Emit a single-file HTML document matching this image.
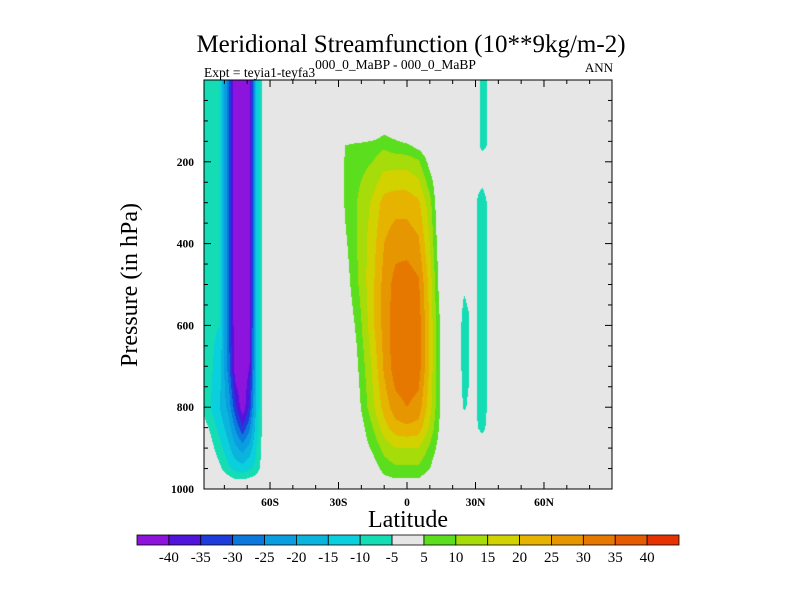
<!DOCTYPE html>
<html><head><meta charset="utf-8"><style>
body{margin:0;background:#fff;}
#wrap{position:relative;width:800px;height:600px;overflow:hidden;font-family:"Liberation Serif",serif;color:#000;}
canvas{position:absolute;left:0;top:0;}
svg{position:absolute;left:0;top:0;}
</style></head><body>
<div id="wrap">
<canvas id="field" width="800" height="600"></canvas>
<svg id="ov" width="800" height="600">
<text x="411" y="52" font-size="25" text-anchor="middle" font-family="Liberation Serif, serif">Meridional Streamfunction (10**9kg/m-2)</text>
<text x="204" y="77" font-size="13.5" font-family="Liberation Serif, serif">Expt = teyia1-teyfa3<tspan dy="-8">000_0_MaBP - 000_0_MaBP</tspan></text>
<text x="613" y="72" font-size="13" text-anchor="end" font-family="Liberation Serif, serif">ANN</text>
<text x="0" y="0" font-size="24" text-anchor="middle" transform="translate(137,285) rotate(-90)" font-family="Liberation Serif, serif">Pressure (in hPa)</text>
<text x="408" y="527" font-size="24" text-anchor="middle" font-family="Liberation Serif, serif">Latitude</text>
</svg>
</div>
<script>
const lats=[-90,-86,-82,-78,-75,-72,-69,-66,-64,-62,-30,-27,-22,-15,-10,-5,0,5,10,14,17,21,23,25,27,29,31,33,35,37,90];
const pressures=[0,100,140,160,200,300,400,500,600,700,800,850,900,950,980,1000];
const negA=[-8,-9,-10,-30,-45,-45,-42,-15,-6,0];
const neg700=[-7,-9,-13,-28,-45,-45,-40,-15,-6,0];
const neg800=[-5,-10,-15,-22,-34,-44,-34,-14,-6,0];
const neg850=[-2,-6,-12,-18,-26,-34,-26,-12,-6,0];
const neg900=[0,-3,-8,-14,-19,-22,-18,-10,-5.5,0];
const neg950=[0,0,-4,-9,-12,-13,-11,-8,-4,0];
const neg980=[0,0,0,-2,-4,-4,-3,-2,0,0];
const zero10=[0,0,0,0,0,0,0,0,0,0];
const pos0=[0,0,0,0,0,0,0,0,0,0,0];
const pos140=[0,0,0,3,6,4,2,0,0,0,0];
const pos160=[0,5,7,8,9,7,6,3,0,0,0];
const pos200=[0,6,8,10,13,13,13,11,3,0,0];
const pos300=[0,6,10,16,22,23,23,21,12,0,0];
const pos400=[0,4,10,18,25,28,28,26,15,2,0];
const pos500=[0,2,9,19,27,32,33,31,18,4,0];
const pos600=[0,0,6,19,27,33,34,33,19,6,0];
const pos700=[0,0,4,16,26,33,34,33,19,6,0];
const pos800=[0,0,2,14,22,28,30,28,17,6,0];
const pos850=[0,0,0,10,18,23,24,23,14,5,0];
const pos900=[0,0,0,6,12,15,15,15,9,3,0];
const pos950=[0,0,0,2,7,9,9,9,5,0,0];
const pos980=[0,0,0,0,3,4,4,4,1,0,0];
const cyTop=[0,0,0,0,0,-3,-8,-5,0];
const cyMid=[0,0,0,0,0,-6,-8,-5,0];
const cy500=[0,-2,-4,-3,0,-6,-8,-5,0];
const cy600=[0,-3,-8,-6,0,-6,-8,-5,0];
const cy800=[0,-2,-6,-4,0,-6,-8,-5,0];
const cy850=[0,0,0,0,0,-5,-7,-4,0];
const cy0=[0,0,0,0,0,0,0,0,0];
const grid=[
 negA.concat(pos0,cyTop,[0]),
 negA.concat(pos0,cyTop,[0]),
 negA.concat(pos140,cyTop,[0]),
 negA.concat(pos160,cyTop,[0]),
 negA.concat(pos200,cy0,[0]),
 negA.concat(pos300,cyMid,[0]),
 negA.concat(pos400,cyMid,[0]),
 negA.concat(pos500,cy500,[0]),
 negA.concat(pos600,cy600,[0]),
 neg700.concat(pos700,cy600,[0]),
 neg800.concat(pos800,cy800,[0]),
 neg850.concat(pos850,cy850,[0]),
 neg900.concat(pos900,cy0,[0]),
 neg950.concat(pos950,cy0,[0]),
 neg980.concat(pos980,cy0,[0]),
 zero10.concat(pos0,cy0,[0])
];
const levelLabels=["-40","-35","-30","-25","-20","-15","-10","-5","5","10","15","20","25","30","35","40"];
const colors=["#8c14dc","#5014dc","#1e3cdc","#0a78dc","#0a9ee0","#0ab4dc","#0acfdc","#14dcb4","#e6e6e6","#5ade1e","#a5dc0a","#d2d200","#e6b400","#e69600","#e67800","#e65a00","#e63200"];
const xTickLat=[-60,-30,0,30,60];
const xTickLabels=["60S","30S","0","30N","60N"];
const yTickP=[200,400,600,800,1000];

const PL=204,PR=612,PT=80,PB=489;
function xS(lat){return 407+lat*2.283;}
function yS(p){return PT+p*(PB-PT)/1000;}
function xInv(x){return (x-407)/2.283;}
function yInv(y){return (y-PT)*1000/(PB-PT);}
function idx(arr,v){for(let i=0;i<arr.length-1;i++){if(v<=arr[i+1])return i;}return arr.length-2;}
function val(lat,p){
 const i=idx(lats,lat),j=idx(pressures,p);
 const tx=Math.max(0,Math.min(1,(lat-lats[i])/(lats[i+1]-lats[i])));
 const ty=Math.max(0,Math.min(1,(p-pressures[j])/(pressures[j+1]-pressures[j])));
 const a=grid[j][i],b=grid[j][i+1],c=grid[j+1][i],d=grid[j+1][i+1];
 return a*(1-tx)*(1-ty)+b*tx*(1-ty)+c*(1-tx)*ty+d*tx*ty;
}
function bin(v){
 if(v>=-5&&v<5)return 8;
 if(v<-5){return Math.max(0,Math.floor((v+45)/5));}
 return Math.min(16,Math.floor(v/5)+8);
}
function hexRGB(h){return [parseInt(h.substr(1,2),16),parseInt(h.substr(3,2),16),parseInt(h.substr(5,2),16)];}
const rgb=colors.map(hexRGB);
const cv=document.getElementById('field');
const ctx=cv.getContext('2d');
const W=PR-PL,H=PB-PT;
const img=ctx.createImageData(W,H);
for(let y=0;y<H;y++){
 const p=yInv(PT+y+0.5);
 for(let x=0;x<W;x++){
  const lat=xInv(PL+x+0.5);
  const c=rgb[bin(val(lat,p))];
  const k=(y*W+x)*4;
  img.data[k]=c[0];img.data[k+1]=c[1];img.data[k+2]=c[2];img.data[k+3]=255;
 }
}
ctx.putImageData(img,PL,PT);

const NS='http://www.w3.org/2000/svg';
const ov=document.getElementById('ov');
function mk(tag,attrs){const e=document.createElementNS(NS,tag);for(const k in attrs)e.setAttribute(k,attrs[k]);ov.appendChild(e);return e;}
const frame=mk('rect',{x:PL,y:PT,width:W,height:H,fill:'none',stroke:'#000','stroke-width':1});


for(let lat=-80;lat<=80;lat+=10){
 const x=xS(lat);const major=(lat%30===0);const len=major?7:4;
 const t1=mk('line',{x1:x,y1:PB,x2:x,y2:PB-len,stroke:'#000'});
 
 
 const t2=mk('line',{x1:x,y1:PT,x2:x,y2:PT+len,stroke:'#000'});
 
 
}
xTickLat.forEach((lat,i)=>{
 const t=mk('text',{x:xS(lat),y:PB+17,'font-size':11.5,'font-weight':'bold','text-anchor':'middle','font-family':'Liberation Serif, serif'});
 t.textContent=xTickLabels[i];
 
 
});
for(let p=50;p<1000;p+=50){
 const y=yS(p);const major=(p%200===0);const len=major?7:4;
 const t1=mk('line',{x1:PL,y1:y,x2:PL+len,y2:y,stroke:'#000'});
 
 
 const t2=mk('line',{x1:PR,y1:y,x2:PR-len,y2:y,stroke:'#000'});
 
 
}
yTickP.forEach(p=>{
 const t=mk('text',{x:PL-10,y:yS(p)+4,'font-size':11.5,'font-weight':'bold','text-anchor':'end','font-family':'Liberation Serif, serif'});
 t.textContent=String(p);
 
 
});
const cbL=137,cbR=679,cbT=535,cbH=10,bw=(cbR-cbL)/colors.length;
colors.forEach((c,i)=>{
 const r=mk('rect',{x:cbL+i*bw,y:cbT,width:bw,height:cbH,fill:c,stroke:'#000','stroke-width':0.8});
 
 
});
levelLabels.forEach((l,i)=>{
 const t=mk('text',{x:cbL+(i+1)*bw,y:cbT+27,'font-size':15,'text-anchor':'middle','font-family':'Liberation Serif, serif'});
 t.textContent=l;
 
 
});
</script>
</body></html>
